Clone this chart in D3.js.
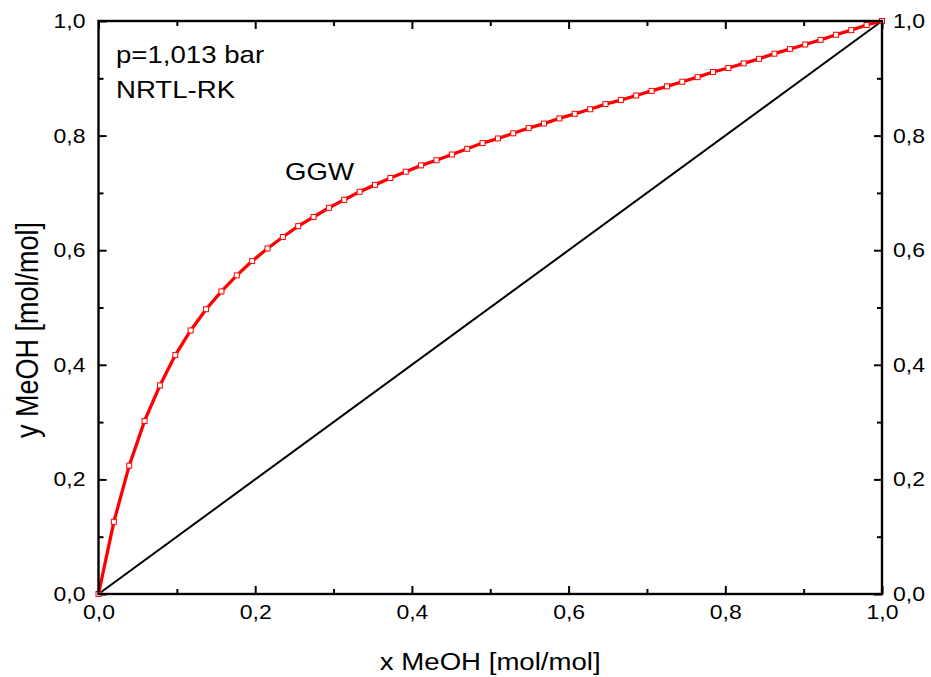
<!DOCTYPE html>
<html>
<head>
<meta charset="utf-8">
<script src="https://cdn.jsdelivr.net/npm/d3@7"></script>
<style>
  body { margin: 0; background: #fff; }
  svg { display: block; font-family: "Liberation Sans", Arial, sans-serif; }
</style>
</head>
<body>
<svg id="chart" width="931" height="677"></svg>
<script>
// liquid mole fraction of methanol (marker positions)
const xMeOH = [0, 0.0196, 0.0392, 0.0588, 0.0784, 0.0980, 0.1176, 0.1373, 0.1569, 0.1765,
  0.1961, 0.2157, 0.2353, 0.2549, 0.2745, 0.2941, 0.3137, 0.3333, 0.3529, 0.3725,
  0.3922, 0.4118, 0.4314, 0.4510, 0.4706, 0.4902, 0.5098, 0.5294, 0.5490, 0.5686,
  0.5882, 0.6078, 0.6275, 0.6471, 0.6667, 0.6863, 0.7059, 0.7255, 0.7451, 0.7647,
  0.7843, 0.8039, 0.8235, 0.8431, 0.8627, 0.8824, 0.9020, 0.9216, 0.9412, 0.9608,
  0.9804, 1.0];
// vapour mole fraction, NRTL-RK equilibrium curve
const yMeOH = [0, 0.126, 0.224, 0.302, 0.364, 0.417, 0.460, 0.497, 0.528, 0.556,
  0.581, 0.603, 0.623, 0.642, 0.658, 0.674, 0.688, 0.702, 0.714, 0.726,
  0.737, 0.748, 0.757, 0.767, 0.777, 0.787, 0.795, 0.804, 0.813, 0.821,
  0.830, 0.838, 0.846, 0.855, 0.862, 0.870, 0.878, 0.886, 0.894, 0.902,
  0.911, 0.918, 0.926, 0.934, 0.943, 0.951, 0.959, 0.967, 0.976, 0.984,
  0.993, 1.0];
// diagonal y = x
const diagX = [0, 1];
const diagY = [0, 1];

const majorTicks = [0, 0.2, 0.4, 0.6, 0.8, 1.0];
const minorTicks = [0.1, 0.3, 0.5, 0.7, 0.9];
const tickLabels = ['0,0', '0,2', '0,4', '0,6', '0,8', '1,0'];

const M = { left: 98.5, right: 882, top: 21, bottom: 594 };
const MAJOR = 8, MINOR = 5;
const S = 1.15;   // text in the original is a bit wider than tall

const svg = d3.select('#chart');

const x = d3.scaleLinear().domain([0, 1]).range([M.left, M.right]);
const y = d3.scaleLinear().domain([0, 1]).range([M.bottom, M.top]);

const fmt = d => tickLabels[majorTicks.indexOf(Math.round(d * 10) / 10)] || '';

// ── Axes (ticks inward on all four sides) ─────────────────
function axisGroup(axis, tx, ty) {
    const g = svg.append('g').attr('transform', `translate(${tx},${ty})`).call(axis);
    g.select('.domain').remove();
    g.selectAll('line').attr('stroke', '#000').attr('stroke-width', 2);
    return g;
}

// minor ticks
axisGroup(d3.axisBottom(x).tickValues(minorTicks).tickSize(-MINOR).tickFormat(''), 0, M.bottom);
axisGroup(d3.axisTop(x).tickValues(minorTicks).tickSize(-MINOR).tickFormat(''), 0, M.top);
axisGroup(d3.axisLeft(y).tickValues(minorTicks).tickSize(-MINOR).tickFormat(''), M.left, 0);
axisGroup(d3.axisRight(y).tickValues(minorTicks).tickSize(-MINOR).tickFormat(''), M.right, 0);

// major ticks
const bottom = axisGroup(d3.axisBottom(x).tickValues(majorTicks).tickSize(-MAJOR).tickPadding(11).tickFormat(fmt), 0, M.bottom);
axisGroup(d3.axisTop(x).tickValues(majorTicks).tickSize(-MAJOR).tickFormat(''), 0, M.top);
const left = axisGroup(d3.axisLeft(y).tickValues(majorTicks).tickSize(-MAJOR).tickPadding(13).tickFormat(fmt), M.left, 0);
const right = axisGroup(d3.axisRight(y).tickValues(majorTicks).tickSize(-MAJOR).tickPadding(11).tickFormat(fmt), M.right, 0);

[bottom, left, right].forEach(g => g.selectAll('text')
    .attr('font-size', 20)
    .attr('font-family', '"Liberation Sans", Arial, sans-serif')
    .attr('fill', '#000')
    .each(function () {
        const t = d3.select(this);
        const tx = +t.attr('x') || 0, ty = +t.attr('y') || 0;
        t.attr('x', 0).attr('y', 0)
         .attr('transform', `translate(${tx},${ty}) scale(${S},1)`);
    }));

// ── Data lines ────────────────────────────────────────────
const line = d3.line().x(d => x(d[0])).y(d => y(d[1]));

svg.append('path')
    .datum(d3.zip(diagX, diagY))
    .attr('fill', 'none')
    .attr('stroke', '#000')
    .attr('stroke-width', 2)
    .attr('d', line);

svg.append('path')
    .datum(d3.zip(xMeOH, yMeOH))
    .attr('fill', 'none')
    .attr('stroke', '#ff0000')
    .attr('stroke-width', 3.3)
    .attr('d', line);

svg.selectAll('.mk')
    .data(d3.zip(xMeOH, yMeOH))
    .join('rect')
    .attr('class', 'mk')
    .attr('x', d => x(d[0]) - 2.5)
    .attr('y', d => y(d[1]) - 2.5)
    .attr('width', 5)
    .attr('height', 5)
    .attr('fill', '#fff')
    .attr('stroke', '#ff0000')
    .attr('stroke-width', 1);

// frame
svg.append('rect')
    .attr('x', M.left).attr('y', M.top)
    .attr('width', M.right - M.left).attr('height', M.bottom - M.top)
    .attr('fill', 'none').attr('stroke', '#000').attr('stroke-width', 2.4);

// ── Labels ────────────────────────────────────────────────
function label(txt, px, py, size, anchor, rot) {
    svg.append('text')
        .attr('transform', `translate(${px},${py})` +
            (rot ? ` rotate(${rot}) scale(1,${S})` : ` scale(${S},1)`))
        .attr('font-size', size)
        .attr('text-anchor', anchor || 'start')
        .attr('fill', '#000')
        .text(txt);
}

label('p=1,013 bar', 116, 63, 24);
label('NRTL-RK', 116, 98, 24);
label('GGW', 285, 180, 24);
label('x MeOH [mol/mol]', (M.left + M.right) / 2, 670, 24, 'middle');
label('y MeOH [mol/mol]', 38, 330, 27, 'middle', -90);
</script>
</body>
</html>
